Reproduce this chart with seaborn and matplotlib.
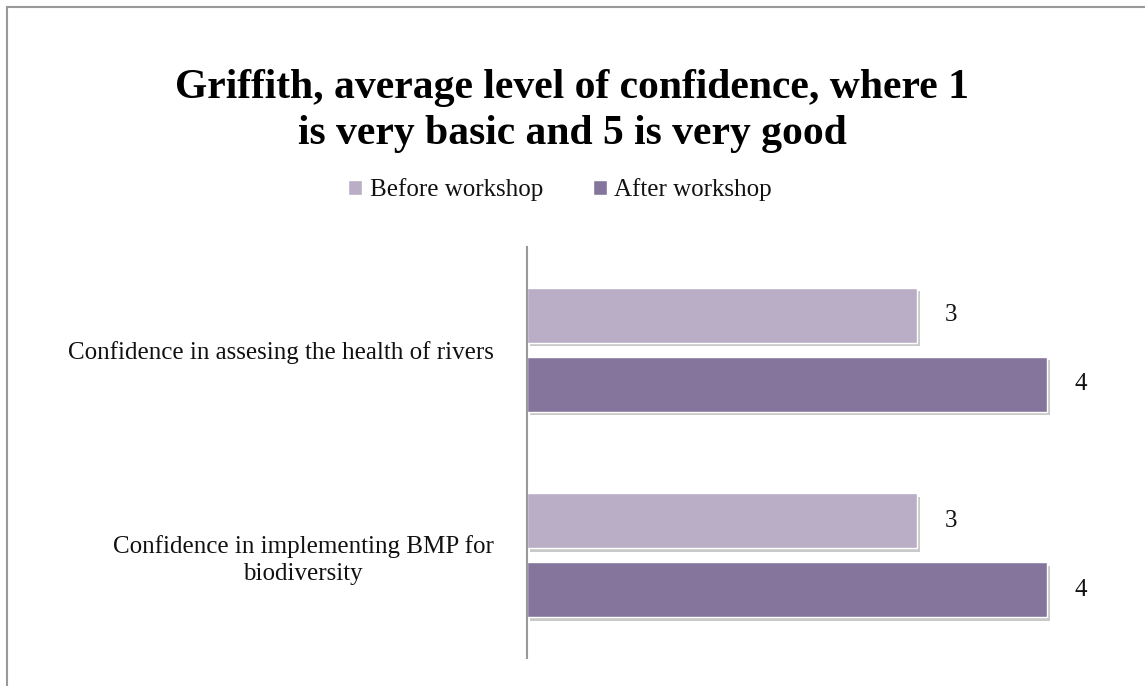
import pandas as pd
import seaborn as sns
import matplotlib.pyplot as plt
import matplotlib.patheffects as pe
from matplotlib.patches import Rectangle

# Chart data
categories = ['Confidence in assesing the health of rivers',
              'Confidence in implementing BMP for\nbiodiversity']
before = [3, 3]
after = [4, 4]
series = ['Before workshop', 'After workshop']

df = pd.DataFrame({
    'question': categories * 2,
    'value': before + after,
    'when': [series[0]] * len(categories) + [series[1]] * len(categories),
})

sns.set_style('white')
plt.rcParams['font.family'] = ['Liberation Serif', 'DejaVu Serif']
plt.rcParams['text.color'] = '#111111'

fig = plt.figure(figsize=(11.45, 6.86), dpi=100)
ax = fig.add_axes([527 / 1145, 1 - 658 / 686, 585 / 1145, 411 / 686])

sns.barplot(data=df, x='value', y='question', hue='when', orient='h',
            palette=['#B9AACA', '#846EA3'], width=0.67, gap=0.2,
            edgecolor='white', linewidth=1, ax=ax)

# Drop shadow like the original
for bar in ax.patches:
    bar.set_path_effects([pe.SimplePatchShadow(offset=(2, -2.5), shadow_rgbFace='#888888', alpha=0.45),
                          pe.Normal()])

for cont in ax.containers:
    ax.bar_label(cont, padding=20, fontsize=18, color='#111111')

ax.set_xlim(0, 4.5)
ax.set_xlabel('')
ax.set_ylabel('')
ax.set_xticks([])
for side in ['top', 'right', 'bottom']:
    ax.spines[side].set_visible(False)
ax.spines['left'].set_color('#999999')
ax.spines['left'].set_linewidth(1.5)
ax.set_yticks(range(len(categories)))
ax.set_yticklabels(categories, fontsize=18, color='#111111',
                   multialignment='center', linespacing=1.3)
ax.tick_params(axis='y', length=0, pad=24)

leg = ax.legend(loc='center', bbox_to_anchor=(560 / 1145, 1 - 190 / 686),
                bbox_transform=fig.transFigure, ncol=2, frameon=False,
                fontsize=18, handlelength=0.55, handleheight=0.55,
                handletextpad=0.3, columnspacing=2.0)
for h in leg.legend_handles:
    h.set_path_effects([])

fig.text(572 / 1145, 1 - 111 / 686,
         'Griffith, average level of confidence, where 1\nis very basic and 5 is very good',
         ha='center', va='center', fontsize=30, fontweight='bold',
         linespacing=1.25, color='black')

# Outer chart border (only top and left edges visible)
fig.add_artist(Rectangle((6.5 / 1145, -0.1), 1.2, 1.1 - 6.5 / 686,
                         transform=fig.transFigure, fill=False,
                         edgecolor='#999999', linewidth=1.5))

plt.savefig('out.png', dpi=100)
